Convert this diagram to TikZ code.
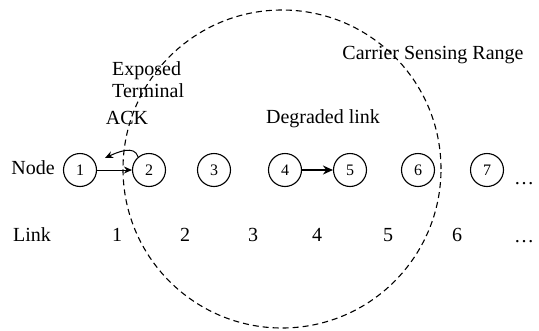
\documentclass[tikz,border=0pt]{standalone}
\usepackage{fontspec}
\setmainfont{Liberation Serif}
\usetikzlibrary{arrows.meta}
\tikzset{
  netnode/.style={draw, circle, line width=1.1pt, minimum size=33pt, inner sep=0pt, font=\fontsize{16}{16}\selectfont},
  lbl/.style={inner sep=0pt, font=\fontsize{20}{22}\selectfont},
  csrange/.style={dashed, dash pattern=on 6pt off 4pt, line width=1.1pt},
  thinarrow/.style={line width=1pt, -{Stealth[length=8pt,width=7pt]}},
  thickarrow/.style={line width=2pt, -{Stealth[length=10pt,width=9pt]}}
}
\begin{document}
\begin{tikzpicture}[x=1pt,y=-1pt]
\useasboundingbox (0,0) rectangle (539,330);
\draw[csrange] (282,169) circle (159pt);
\node[lbl] (nodelbl) at (33,168) {Node};
\node[lbl] (linklbl) at (32,235) {Link};
\node[netnode] (n1) at (80,170) {1};
\node[netnode] (n2) at (149,170) {2};
\node[netnode] (n3) at (214,170) {3};
\node[netnode] (n4) at (285,170) {4};
\node[netnode] (n5) at (350,170) {5};
\node[netnode] (n6) at (418,170) {6};
\node[netnode] (n7) at (487,170) {7};
\node[lbl, anchor=base] (ndots) at (524,184) {\dots};
\node[lbl] (l1) at (117,235) {1};
\node[lbl] (l2) at (185,235) {2};
\node[lbl] (l3) at (253,235) {3};
\node[lbl] (l4) at (317,235) {4};
\node[lbl] (l5) at (388,235) {5};
\node[lbl] (l6) at (457,235) {6};
\node[lbl, anchor=base] (ldots) at (524,242) {\dots};
\node[lbl, align=left, anchor=north west] (exposed) at (112,61) {Exposed\\Terminal};
\node[lbl] (ack) at (127,118) {ACK};
\node[lbl] (degraded) at (323,119) {Degraded link};
\node[lbl] (csr) at (433,55) {Carrier Sensing Range};
\draw[thinarrow] (n1) -- (n2);
\draw[thickarrow] (n4) -- (n5);
\coordinate (ackend) at (105,158);
\draw[thinarrow] (n2.130) to[out=105, in=25] (ackend);
\end{tikzpicture}
\end{document}
